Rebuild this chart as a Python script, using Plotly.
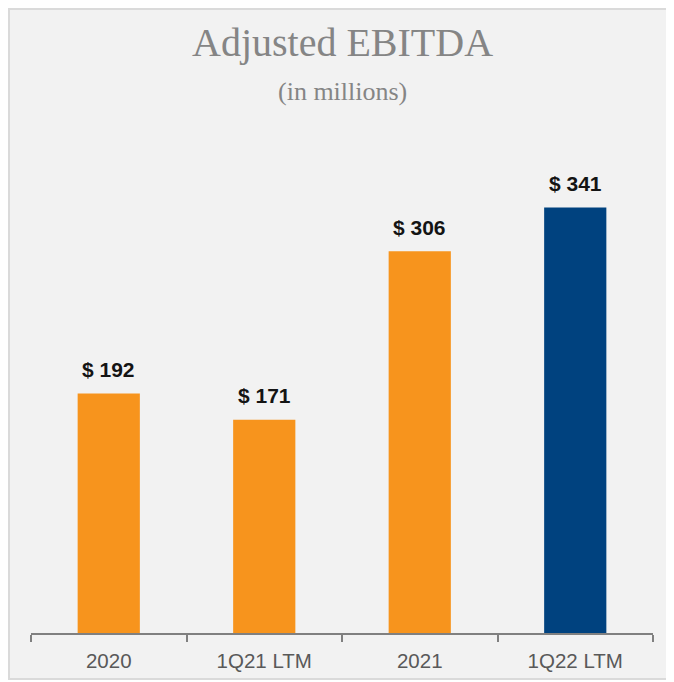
import plotly.graph_objects as go

categories = ["2020", "1Q21 LTM", "2021", "1Q22 LTM"]
values = [192, 171, 306, 341]
labels = ["$ 192", "$ 171", "$ 306", "$ 341"]
colors = ["#F7941D", "#F7941D", "#F7941D", "#00427F"]

W, H = 666, 674
L, R, T, B = 23, 21, 126, 49
PW, PH = W - L - R, H - T - B

fig = go.Figure()
fig.add_trace(go.Bar(
    x=categories, y=values, marker=dict(color=colors, line=dict(width=0)),
    width=0.4, hoverinfo="skip",
))

for i, (v, t) in enumerate(zip(values, labels)):
    fig.add_annotation(x=i, y=v, text=t, showarrow=False, yanchor="bottom",
                       yshift=10.5, font=dict(family="Liberation Sans, Arial", size=21, color="#141414", weight="bold"))

fig.add_annotation(xref="paper", yref="paper", x=0.5, y=1, yshift=91.5, text="Adjusted EBITDA",
                   showarrow=False, yanchor="middle",
                   font=dict(family="Liberation Serif, serif", size=40, color="#858585"))
fig.add_annotation(xref="paper", yref="paper", x=0.5, y=1, yshift=43, text="(in millions)",
                   showarrow=False, yanchor="middle",
                   font=dict(family="Liberation Serif, serif", size=26, color="#858585"))

# light grey panel with frame
fig.add_shape(type="rect", xref="paper", yref="paper",
              x0=(1 - L) / PW, x1=(660 - L) / PW, y0=-(671 - (H - B)) / PH, y1=1 + (T - 1) / PH,
              line=dict(color="#DADADA", width=2), fillcolor="#F2F2F2", layer="below")

fig.update_layout(
    width=W, height=H,
    margin=dict(l=L, r=R, t=T, b=B),
    paper_bgcolor="#FFFFFF", plot_bgcolor="rgba(0,0,0,0)",
    showlegend=False,
    xaxis=dict(
        type="category", range=[-0.5, 3.5], autorange=False,
        tickson="boundaries", ticks="outside", ticklen=7, tickwidth=2,
        tickcolor="#808080", showline=True, linecolor="#808080", linewidth=2,
        showgrid=False, tickfont=dict(family="Liberation Sans, Arial", size=20.5, color="#595959"),
        ticklabelstandoff=8,
        tickangle=0, automargin=False, fixedrange=True,
    ),
    yaxis=dict(range=[0, 400], autorange=False, visible=False, showgrid=False, fixedrange=True),
)

fig.write_html("out.html")
